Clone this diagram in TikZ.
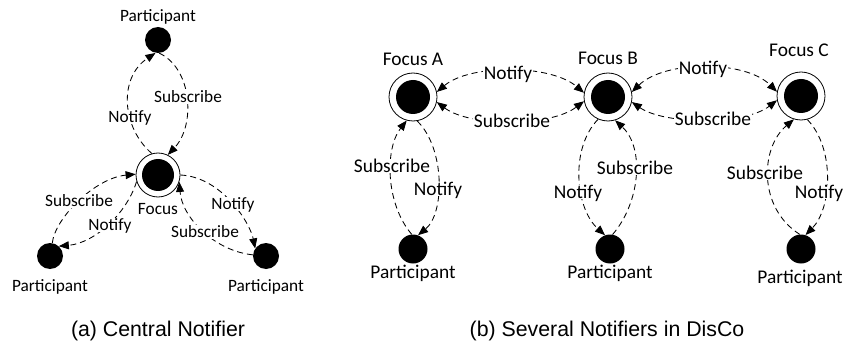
\documentclass[tikz,border=0pt]{standalone}
\usepackage{fontspec}
\setmainfont{Carlito}
\newfontfamily\capfont{Liberation Sans}
\usetikzlibrary{arrows.meta}

\tikzset{
  tipA/.tip={Triangle[length=10pt,width=8pt]},
  wire/.style={line width=0.85pt, dash pattern=on 6pt off 4pt, -tipA},
  wirebi/.style={wire, tipA-tipA},
  hub/.style 2 args={circle, draw, line width=0.8pt, inner sep=0pt, minimum size=#1,
    path picture={\fill[black] (path picture bounding box.center) circle (#2);}},
  member/.style={circle, fill=black, inner sep=0pt, minimum size=#1},
  smalltext/.style={font=\fontsize{17.3}{20}\selectfont, inner sep=0pt},
  bigtext/.style={font=\fontsize{19.4}{23}\selectfont, inner sep=0pt},
  tagsmall/.style={font=\fontsize{17.3}{20}\selectfont, fill=white, inner sep=1pt,
    text height=11.1pt, text depth=0pt},
  tagbig/.style={font=\fontsize{19.4}{23}\selectfont, fill=white, inner sep=1pt,
    text height=12.4pt, text depth=0pt},
  caption/.style={font=\capfont\fontsize{21.3}{25}\selectfont, inner sep=0pt, anchor=base},
}

\begin{document}
\begin{tikzpicture}[x=1pt, y=1pt]
\useasboundingbox (0,0) rectangle (845,343);

% ---------- (a) central notifier ----------
\node[hub={44pt}{16pt}] (cF) at (158,168) {};
\node[member=26pt] (cT) at (158,303) {};
\node[member=26pt] (cL) at (50,87) {};
\node[member=26pt] (cR) at (266,87) {};

\node[smalltext, anchor=base] (cTlab) at (158,321) {Participant};
\node[smalltext, anchor=base] (cLlab) at (50,52) {Participant};
\node[smalltext, anchor=base] (cRlab) at (266,52) {Participant};
\node[smalltext, anchor=base] (cFlab) at (158,129) {Focus};

\draw[wire] (cF.106) .. controls (122,215) and (118,265) .. (cT.259);
\draw[wire] (cT.275) .. controls (192,275) and (196,218) .. (cF.64);
\draw[wire] (cL.80) .. controls (55,125) and (95,165) .. (cF.178);
\draw[wire] (cF.197) .. controls (127,130) and (95,100) .. (cL.48);
\draw[wire] (cF.0) .. controls (222,166) and (250,120) .. (cR.145);
\draw[wire] (cR.175) .. controls (215,92) and (182,125) .. (cF.342);

\node[tagsmall] (t1) at (130,226) {Notify};
\node[tagsmall] (t2) at (188,246) {Subscribe};
\node[tagsmall] (t3) at (79,142) {Subscribe};
\node[tagsmall] (t4) at (110,118) {Notify};
\node[tagsmall] (t5) at (233,139) {Notify};
\node[tagsmall] (t6) at (205,111) {Subscribe};

\node[caption] (capa) at (158,7) {(a) Central Notifier};

% ---------- (b) several notifiers ----------
\node[hub={48pt}{17pt}] (hA) at (413,246) {};
\node[hub={48pt}{17pt}] (hB) at (608,246) {};
\node[hub={48pt}{17pt}] (hC) at (801,247) {};
\node[member=29pt] (pA) at (413,94) {};
\node[member=29pt] (pB) at (610,94) {};
\node[member=29pt] (pC) at (801,94) {};

\node[bigtext, anchor=base] (hAlab) at (413,277) {Focus A};
\node[bigtext, anchor=base] (hBlab) at (608,278) {Focus B};
\node[bigtext, anchor=base] (hClab) at (799,286) {Focus C};
\node[bigtext, anchor=base] (pAlab) at (413,65) {Participant};
\node[bigtext, anchor=base] (pBlab) at (610,65) {Participant};
\node[bigtext, anchor=base] (pClab) at (800,60) {Participant};

\draw[wirebi] (hA.12) .. controls (470,279) and (550,279) .. (hB.170);
\draw[wirebi] (hA.-12) .. controls (470,216) and (550,216) .. (hB.190);
\draw[wirebi] (hB.12) .. controls (665,283) and (745,283) .. (hC.170);
\draw[wirebi] (hB.-12) .. controls (665,218) and (745,218) .. (hC.190);

\draw[wire] (pA.95) .. controls (385,140) and (385,195) .. (hA.255);
\draw[wire] (hA.280) .. controls (445,195) and (445,130) .. (pA.70);
\draw[wire] (hB.246) .. controls (570,195) and (575,135) .. (pB.110);
\draw[wire] (pB.80) .. controls (640,140) and (645,195) .. (hB.287);
\draw[wire] (pC.95) .. controls (758,135) and (760,195) .. (hC.253);
\draw[wire] (hC.285) .. controls (835,195) and (832,135) .. (pC.72);

\node[tagbig] (u1) at (508,270) {Notify};
\node[tagbig] (u2) at (512,222) {Subscribe};
\node[tagbig] (u3) at (703,275) {Notify};
\node[tagbig] (u4) at (713,224) {Subscribe};
\node[tagbig] (u5) at (392,177) {Subscribe};
\node[tagbig] (u6) at (438,154) {Notify};
\node[tagbig] (u7) at (578,151) {Notify};
\node[tagbig] (u8) at (635,175) {Subscribe};
\node[tagbig] (u9) at (765,170) {Subscribe};
\node[tagbig] (u10) at (819,151) {Notify};

\node[caption] (capb) at (607,7) {(b) Several Notifiers in DisCo};
\end{tikzpicture}
\end{document}
